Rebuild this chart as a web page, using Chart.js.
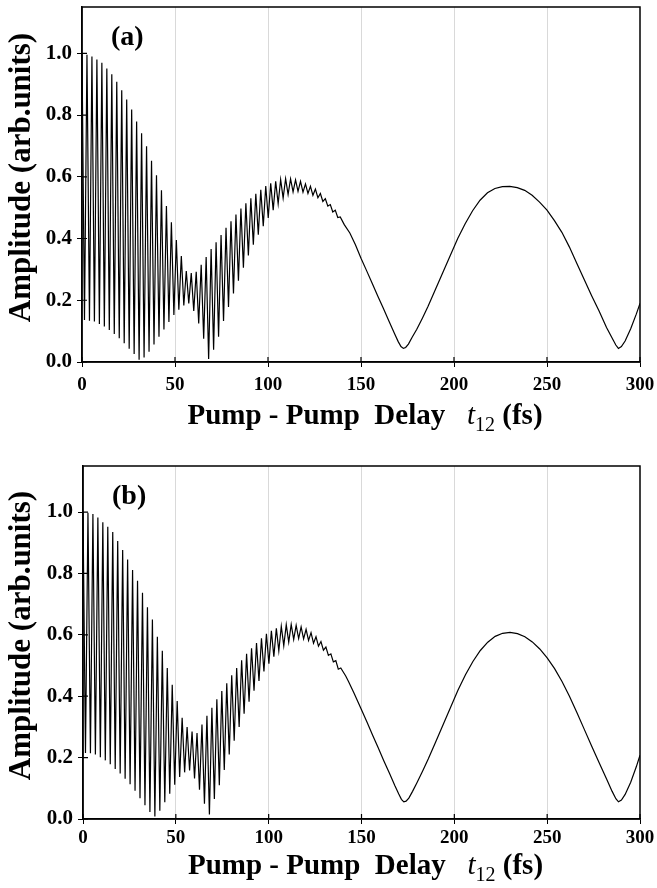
<!DOCTYPE html>
<html>
<head>
<meta charset="utf-8">
<script src="https://cdn.jsdelivr.net/npm/chart.js@4.4.1/dist/chart.umd.min.js"></script>
<style>
  html, body { margin: 0; padding: 0; background: #fff; }
  #wrap { position: relative; width: 657px; height: 888px; }
  canvas { position: absolute; left: 0; }
  #chartA { top: 0; }
  #chartB { top: 444px; }
</style>
</head>
<body>
<div id="wrap">
  <canvas id="chartA" width="657" height="444"></canvas>
  <canvas id="chartB" width="657" height="444"></canvas>
</div>
<script>
// fringe period (fs) of the fast oscillation
const period = 2.67;

// panel (a): fringe maxima and minima
const peaksA = [
  1.0, 0.995, 0.99, 0.98, 0.969, 0.951, 0.932, 0.908, 0.88, 0.85,
  0.818, 0.779, 0.741, 0.699, 0.652, 0.605, 0.556, 0.505, 0.453, 0.395,
  0.343, 0.295, 0.288, 0.292, 0.315, 0.34, 0.366, 0.388, 0.411, 0.435,
  0.456, 0.478, 0.497, 0.514, 0.53, 0.545, 0.558, 0.57, 0.579, 0.585,
  0.591, 0.594, 0.593, 0.59, 0.585, 0.577, 0.569, 0.56, 0.546, 0.529,
  0.51, 0.492, 0.47
];
const troughsA = [
  0.136, 0.134, 0.131, 0.123, 0.115, 0.104, 0.091, 0.077, 0.061, 0.043,
  0.026, 0.007, 0.015, 0.033, 0.057, 0.082, 0.105, 0.13, 0.152, 0.169,
  0.183, 0.19, 0.165, 0.125, 0.075, 0.01, 0.04, 0.082, 0.133, 0.178,
  0.222, 0.263, 0.305, 0.345, 0.38, 0.412, 0.44, 0.467, 0.492, 0.513,
  0.531, 0.543, 0.551, 0.553, 0.55, 0.546, 0.54, 0.532, 0.52, 0.505,
  0.486, 0.468
];
// panel (a): smooth part once the fringes are gone
const tailTimesA = [141, 144, 147, 150, 153, 156, 159, 162, 165, 168, 170, 171.5, 172.8, 174, 175.5, 177.5,
  180, 183, 186, 190, 194, 198, 202, 206, 210, 214, 218, 222, 226, 230, 234, 238, 242, 246, 250, 254,
  258, 262, 266, 270, 274, 278, 282, 285, 287, 288.4, 290, 292, 295, 298, 300];
const tailValuesA = [0.445, 0.418, 0.38, 0.336, 0.296, 0.255, 0.214, 0.174, 0.133, 0.092, 0.066, 0.05, 0.044, 0.047, 0.058, 0.08,
  0.106, 0.142, 0.18, 0.235, 0.29, 0.345, 0.4, 0.448, 0.49, 0.524, 0.548, 0.562, 0.568, 0.569, 0.565, 0.556, 0.54, 0.518, 0.492, 0.458,
  0.42, 0.373, 0.32, 0.267, 0.215, 0.165, 0.112, 0.078, 0.055, 0.044, 0.05, 0.068, 0.108, 0.155, 0.19];

// panel (b)
const peaksB = [
  1.0, 0.998, 0.994, 0.982, 0.967, 0.952, 0.935, 0.906, 0.876, 0.845,
  0.811, 0.776, 0.737, 0.69, 0.65, 0.594, 0.548, 0.492, 0.437, 0.384,
  0.33, 0.3, 0.285, 0.28, 0.308, 0.336, 0.362, 0.39, 0.417, 0.442,
  0.468, 0.492, 0.517, 0.538, 0.556, 0.573, 0.589, 0.603, 0.613, 0.621,
  0.628, 0.633, 0.634, 0.631, 0.626, 0.618, 0.607, 0.594, 0.578, 0.56,
  0.538, 0.516, 0.492
];
const troughsB = [
  0.215, 0.214, 0.21, 0.201, 0.191, 0.178, 0.163, 0.148, 0.131, 0.113,
  0.092, 0.068, 0.045, 0.023, 0.008, 0.027, 0.055, 0.082, 0.112, 0.137,
  0.152, 0.158, 0.132, 0.095, 0.05, 0.015, 0.065, 0.11, 0.16, 0.21,
  0.255, 0.3, 0.343, 0.382, 0.418, 0.45, 0.481, 0.506, 0.529, 0.548,
  0.564, 0.576, 0.585, 0.588, 0.587, 0.582, 0.573, 0.563, 0.55, 0.533,
  0.512, 0.488
];
const tailTimesB = [141.5, 143, 146, 150, 153, 156, 159, 162, 165, 168, 170, 171.5, 172.8, 174, 175.5, 177.5,
  180, 183, 186, 190, 194, 198, 202, 206, 210, 214, 218, 222, 226, 230, 234, 238, 242, 246, 250, 254,
  258, 262, 266, 270, 274, 278, 282, 285, 287, 288.4, 290, 292, 295, 298, 300];
const tailValuesB = [0.466, 0.448, 0.41, 0.356, 0.315, 0.273, 0.232, 0.19, 0.15, 0.108, 0.082, 0.064, 0.056, 0.058, 0.068, 0.09,
  0.12, 0.157, 0.196, 0.252, 0.308, 0.364, 0.42, 0.47, 0.513, 0.549, 0.576, 0.595, 0.605, 0.608, 0.604, 0.594, 0.577, 0.554, 0.525, 0.49,
  0.448, 0.4, 0.347, 0.292, 0.237, 0.183, 0.13, 0.09, 0.066, 0.056, 0.062, 0.08, 0.12, 0.17, 0.208];

const xTicks = [0, 50, 100, 150, 200, 250, 300];
const yTicks = [0, 0.2, 0.4, 0.6, 0.8, 1.0];

const serif = '"Liberation Serif", "Times New Roman", serif';

function buildPoints(peaks, troughs, tailT, tailV) {
  const pts = [];
  for (let k = 0; k < peaks.length; k++) {
    pts.push({ x: k * period, y: peaks[k] });
    if (k < troughs.length) pts.push({ x: (k + 0.5) * period, y: troughs[k] });
  }
  tailT.forEach((t, i) => pts.push({ x: t, y: tailV[i] }));
  return pts;
}

// frame, inner ticks, panel label and axis titles
const decor = {
  id: 'decor',
  afterDraw(chart, args, opts) {
    const { ctx, chartArea: a, scales } = chart;
    ctx.save();
    ctx.strokeStyle = '#000';
    ctx.lineWidth = 1.5;
    ctx.strokeRect(a.left, a.top, a.right - a.left, a.bottom - a.top);

    ctx.lineWidth = 1.2;
    ctx.beginPath();
    xTicks.forEach(v => {
      const px = scales.x.getPixelForValue(v);
      ctx.moveTo(px, a.bottom);
      ctx.lineTo(px, a.bottom - 5);
    });
    yTicks.forEach(v => {
      const py = scales.y.getPixelForValue(v);
      ctx.moveTo(a.left, py);
      ctx.lineTo(a.left + 5, py);
    });
    ctx.stroke();

    ctx.fillStyle = '#000';
    ctx.textBaseline = 'middle';
    ctx.textAlign = 'left';
    ctx.font = 'bold 28px ' + serif;
    ctx.fillText(opts.label, a.left + 29, a.top + 31);

    // y title
    ctx.save();
    ctx.translate(22, (a.top + a.bottom) / 2 - 7);
    ctx.rotate(-Math.PI / 2);
    ctx.textAlign = 'center';
    ctx.font = 'bold 31px ' + serif;
    ctx.fillText('Amplitude (arb.units)', 0, 0);
    ctx.restore();

    // x title: Pump - Pump  Delay   t12 (fs)
    const parts = [
      { text: 'Pump - Pump  Delay   ', font: 'bold 29px ' + serif, dy: 0 },
      { text: 't', font: 'italic 29px ' + serif, dy: 0 },
      { text: '12', font: '20px ' + serif, dy: 7 },
      { text: ' (fs)', font: 'bold 29px ' + serif, dy: 0 }
    ];
    let total = 0;
    parts.forEach(p => { ctx.font = p.font; p.w = ctx.measureText(p.text).width; total += p.w; });
    let x = (a.left + a.right) / 2 + 4 - total / 2;
    const base = a.bottom + opts.titleOffset;
    ctx.textBaseline = 'alphabetic';
    parts.forEach(p => {
      ctx.font = p.font;
      ctx.fillText(p.text, x, base + p.dy);
      x += p.w;
    });
    ctx.restore();
  }
};

function makePanel(id, label, points, box) {
  return new Chart(document.getElementById(id), {
    type: 'line',
    data: {
      datasets: [{
        data: points,
        borderColor: '#000',
        borderWidth: 1.2,
        pointRadius: 0,
        tension: 0,
        fill: false
      }]
    },
    options: {
      responsive: false,
      animation: false,
      events: [],
      layout: { padding: { left: 0, right: 17, top: box.top, bottom: 0 } },
      plugins: {
        legend: { display: false },
        tooltip: { enabled: false },
        decor: { label: label, titleOffset: box.titleOffset }
      },
      scales: {
        x: {
          type: 'linear',
          min: 0,
          max: 300,
          afterBuildTicks: s => { s.ticks = xTicks.map(v => ({ value: v })); },
          afterFit: s => { s.height = box.xHeight; s.paddingLeft = 0; s.paddingRight = 0; },
          ticks: {
            color: '#000',
            padding: box.tickPad,
            maxRotation: 0,
            font: { family: serif, size: 19, weight: 'bold' }
          },
          grid: {
            color: c => (c.tick && (c.tick.value === 0 || c.tick.value === 300)) ? 'rgba(0,0,0,0)' : '#d9d9d9',
            tickColor: '#000',
            tickLength: 5,
            lineWidth: 1
          },
          border: { display: true, color: '#000', width: 1.5 }
        },
        y: {
          min: 0,
          max: 1.15,
          afterBuildTicks: s => { s.ticks = yTicks.map(v => ({ value: v })); },
          afterFit: s => { s.width = box.yWidth; s.paddingTop = 0; s.paddingBottom = 0; },
          ticks: {
            color: '#000',
            padding: 5,
            callback: v => v.toFixed(1),
            font: { family: serif, size: 21, weight: 'bold' }
          },
          grid: { drawOnChartArea: false, color: '#000', tickLength: 5 },
          border: { display: true, color: '#000', width: 1.5 }
        }
      }
    },
    plugins: [decor]
  });
}

makePanel('chartA', '(a)', buildPoints(peaksA, troughsA, tailTimesA, tailValuesA),
  { top: 7, xHeight: 82, yWidth: 82, tickPad: 7, titleOffset: 62 });
makePanel('chartB', '(b)', buildPoints(peaksB, troughsB, tailTimesB, tailValuesB),
  { top: 22, xHeight: 69, yWidth: 83, tickPad: 3, titleOffset: 55 });
</script>
</body>
</html>
